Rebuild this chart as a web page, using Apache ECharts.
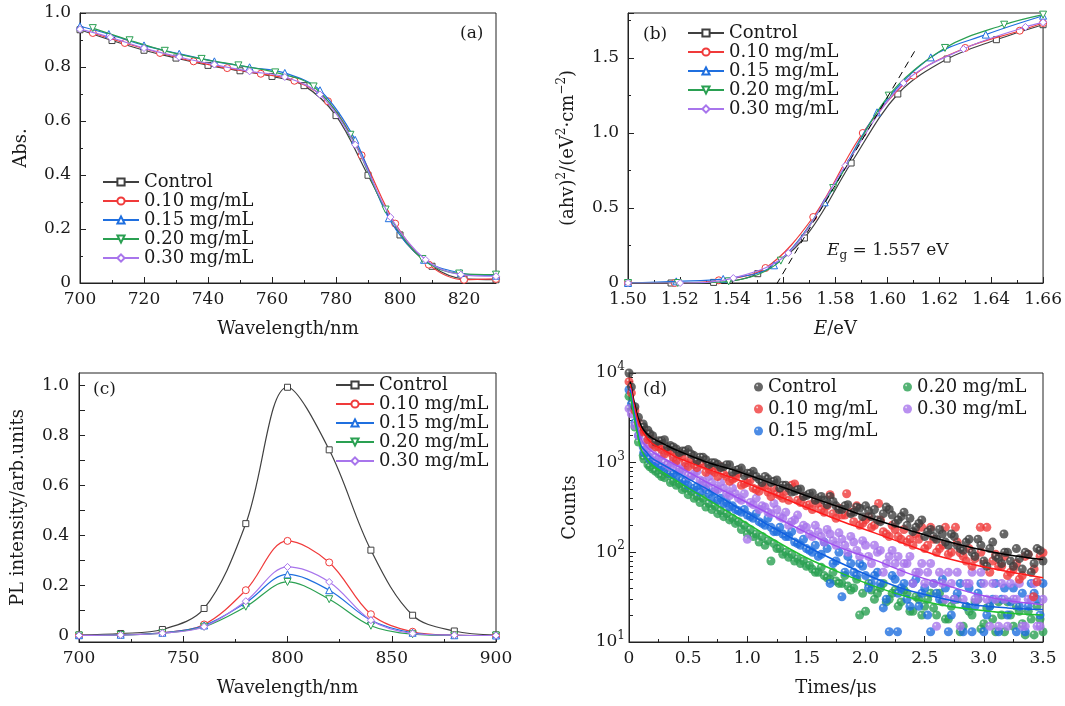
<!DOCTYPE html>
<html>
<head>
<meta charset="utf-8">
<script src="https://cdn.jsdelivr.net/npm/echarts@6/dist/echarts.min.js"></script>
<style>
  html, body { margin: 0; padding: 0; background: #fff; }
  #chart { width: 1065px; height: 706px; }
</style>
</head>
<body>
<div id="chart"></div>
<script>
// ---- (a) absorption, [wavelength nm, Abs.]
const absCtrl = [[700,0.938],[710,0.898],[720,0.862],[730,0.833],[740,0.806],[750,0.786],[760,0.765],[770,0.731],[780,0.62],[790,0.399],[800,0.178],[810,0.062],[820,0.015],[830,0.012]];
const abs010 = [[704,0.926],[714,0.889],[725,0.852],[735.5,0.821],[746,0.796],[756.5,0.775],[767,0.749],[777.5,0.673],[788,0.473],[798.5,0.22],[809,0.068],[820,0.012],[830,0.015]];
const abs015 = [[700,0.951],[709,0.922],[720,0.88],[731,0.849],[742,0.821],[753,0.799],[764,0.778],[775,0.714],[786,0.53],[796.5,0.24],[807.5,0.086],[819,0.037],[830,0.027]];
const abs020 = [[704,0.944],[715.5,0.899],[726.5,0.86],[738,0.83],[749.5,0.806],[761,0.78],[773,0.728],[784.5,0.549],[795.5,0.272],[807,0.089],[818.5,0.035],[830,0.031]];
const abs030 = [[700,0.94],[709.5,0.91],[720,0.87],[731,0.837],[742,0.809],[753,0.784],[764,0.763],[775,0.698],[786,0.512],[797,0.244],[808,0.086],[819,0.031],[830,0.025]];

// ---- (b) Tauc plot, [E eV, (ahv)^2]
const taucCtrl = [[1.500,0],[1.5166,0],[1.533,0.004],[1.550,0.062],[1.568,0.30],[1.586,0.80],[1.604,1.26],[1.623,1.493],[1.642,1.622],[1.660,1.722]];
const tauc010 = [[1.500,0],[1.518,0],[1.535,0.018],[1.553,0.10],[1.5714,0.44],[1.5905,1.0],[1.610,1.382],[1.630,1.567],[1.651,1.682],[1.660,1.733]];
const tauc015 = [[1.500,0],[1.5186,0.011],[1.5367,0.027],[1.5563,0.118],[1.5758,0.538],[1.596,1.138],[1.6167,1.504],[1.6379,1.656],[1.660,1.782]];
const tauc020 = [[1.500,0],[1.5192,0],[1.5388,0.011],[1.5589,0.149],[1.5791,0.633],[1.6005,1.249],[1.6222,1.567],[1.645,1.722],[1.660,1.789]];
const tauc030 = [[1.500,0],[1.5201,0],[1.5406,0.033],[1.5618,0.20],[1.5838,0.782],[1.6062,1.333],[1.6293,1.56],[1.6532,1.707],[1.660,1.738]];
const taucFit = [[1.5572,-0.01],[1.611,1.56]];

// ---- (c) PL spectra
const plWave = [700,720,740,760,780,800,820,840,860,880,900];
const plCtrl = [0.003,0.009,0.025,0.109,0.448,0.993,0.743,0.342,0.082,0.019,0.003];
const pl010  = [0.002,0.004,0.012,0.045,0.182,0.379,0.293,0.086,0.016,0.003,0.001];
const pl015  = [0.002,0.004,0.012,0.041,0.132,0.245,0.182,0.062,0.012,0.002,0.001];
const pl020  = [0.001,0.003,0.010,0.036,0.116,0.215,0.146,0.040,0.006,0.001,0.001];
const pl030  = [0.001,0.003,0.010,0.036,0.138,0.275,0.215,0.062,0.009,0.002,0.001];

// ---- (d) TRPL decay, [time us, counts]
const trCtrl = [[0.0,10000],[0.02,7000],[0.05,4200],[0.08,3200],[0.12,2700],[0.16,2300],[0.2,2000],[0.25,1750],[0.3,1800],[0.35,1550],[0.4,1420],[0.45,1350],[0.5,1400],[0.55,1200],[0.6,1150],[0.65,1080],[0.7,1000],[0.75,960],[0.8,900],[0.85,950],[0.9,820],[0.95,870],[1.0,760],[1.05,800],[1.1,650],[1.15,700],[1.2,600],[1.25,640],[1.3,560],[1.35,520],[1.4,480],[1.45,510],[1.5,430],[1.55,460],[1.6,400],[1.65,380],[1.7,420],[1.75,330],[1.8,300],[1.85,340],[1.9,280],[1.95,310],[2.0,330],[2.05,250],[2.1,230],[2.15,270],[2.2,300],[2.25,210],[2.3,250],[2.35,200],[2.4,170],[2.45,210],[2.5,150],[2.55,180],[2.6,140],[2.65,160],[2.7,120],[2.75,150],[2.8,110],[2.85,130],[2.9,100],[2.95,140],[3.0,80],[3.05,110],[3.1,90],[3.15,75],[3.17,160],[3.2,100],[3.25,70],[3.3,85],[3.35,100],[3.4,60],[3.45,110],[3.5,80]];
const trCtrlB = [[0.125,2500],[0.175,2100],[0.225,1700],[0.275,1750],[0.325,1500],[0.375,1500],[0.425,1300],[0.475,1350],[0.525,1250],[0.575,1050],[0.625,1150],[0.675,950],[0.725,1000],[0.775,880],[0.825,950],[0.875,780],[0.925,840],[0.975,720],[1.025,760],[1.075,700],[1.125,600],[1.175,660],[1.225,620],[1.275,520],[1.325,560],[1.375,470],[1.425,500],[1.475,420],[1.525,450],[1.575,380],[1.625,420],[1.675,340],[1.725,370],[1.775,300],[1.825,330],[1.875,270],[1.925,320],[1.975,250],[2.025,290],[2.075,300],[2.125,220],[2.175,320],[2.225,260],[2.275,230],[2.325,280],[2.375,240],[2.425,190],[2.475,230],[2.525,170],[2.575,150],[2.625,180],[2.675,130],[2.725,160],[2.775,120],[2.825,105],[2.875,140],[2.925,90],[2.975,120],[3.025,70],[3.075,130],[3.125,85],[3.175,100],[3.225,80],[3.275,110],[3.325,65],[3.375,95],[3.425,75],[3.475,105]];
const tr010 = [[0.0,8000],[0.02,6000],[0.05,3800],[0.08,2800],[0.12,2200],[0.16,1800],[0.2,1600],[0.25,1500],[0.3,1250],[0.35,1300],[0.4,1050],[0.45,1150],[0.5,900],[0.55,950],[0.6,1000],[0.65,780],[0.7,820],[0.75,700],[0.8,750],[0.85,620],[0.9,680],[0.95,560],[1.0,600],[1.05,520],[1.1,480],[1.15,540],[1.2,420],[1.25,450],[1.3,400],[1.35,380],[1.4,580],[1.45,360],[1.5,330],[1.55,300],[1.6,350],[1.65,280],[1.7,440],[1.75,240],[1.8,260],[1.84,450],[1.9,220],[1.95,200],[2.0,230],[2.05,190],[2.11,350],[2.15,170],[2.2,150],[2.25,180],[2.3,140],[2.35,130],[2.4,120],[2.45,140],[2.5,110],[2.55,190],[2.6,100],[2.65,120],[2.7,95],[2.76,190],[2.8,99],[2.85,80],[2.9,70],[2.97,190],[3.0,75],[3.05,60],[3.1,95],[3.15,70],[3.2,55],[3.25,65],[3.3,50],[3.35,90],[3.42,32],[3.45,47],[3.5,99]];
const tr010B = [[0.125,2300],[0.175,1900],[0.225,1500],[0.275,1400],[0.325,1350],[0.375,1150],[0.425,1250],[0.475,1000],[0.525,1100],[0.575,880],[0.625,950],[0.675,850],[0.725,780],[0.775,900],[0.825,700],[0.875,650],[0.925,760],[0.975,580],[1.025,640],[1.075,500],[1.125,560],[1.175,470],[1.225,520],[1.275,430],[1.325,480],[1.375,560],[1.425,380],[1.475,420],[1.525,340],[1.575,380],[1.625,300],[1.675,330],[1.725,270],[1.775,310],[1.825,260],[1.875,280],[1.925,330],[1.975,210],[2.025,250],[2.075,200],[2.125,230],[2.175,160],[2.225,200],[2.275,150],[2.325,180],[2.375,140],[2.425,160],[2.475,190],[2.525,120],[2.575,140],[2.625,110],[2.675,190],[2.725,100],[2.775,130],[2.825,90],[2.875,110],[2.925,85],[2.975,100],[3.025,190],[3.075,80],[3.125,70],[3.175,90],[3.225,60],[3.275,75],[3.325,55],[3.375,95],[3.425,65],[3.475,90]];
const tr015 = [[0.0,6500],[0.02,4500],[0.05,2800],[0.08,2000],[0.12,1500],[0.16,1200],[0.2,1050],[0.25,950],[0.3,850],[0.35,750],[0.4,700],[0.45,640],[0.5,560],[0.55,520],[0.6,470],[0.65,500],[0.7,400],[0.75,380],[0.8,350],[0.85,320],[0.9,300],[0.95,280],[1.0,260],[1.05,240],[1.1,220],[1.15,200],[1.2,190],[1.25,170],[1.3,160],[1.35,150],[1.4,130],[1.45,120],[1.5,110],[1.55,100],[1.6,90],[1.65,130],[1.7,45],[1.75,80],[1.8,32],[1.85,90],[1.9,60],[1.95,75],[2.0,55],[2.05,45],[2.1,60],[2.15,24],[2.2,13],[2.25,50],[2.27,13],[2.3,40],[2.35,30],[2.4,45],[2.45,25],[2.5,40],[2.55,13],[2.6,35],[2.65,50],[2.7,13],[2.75,30],[2.8,45],[2.85,25],[2.9,13],[2.95,35],[3.0,13],[3.05,25],[3.1,45],[3.15,30],[3.2,20],[3.25,40],[3.3,25],[3.35,13],[3.4,45],[3.45,30],[3.5,45]];
const tr015B = [[0.125,1300],[0.175,1100],[0.225,1000],[0.275,900],[0.325,950],[0.375,750],[0.425,800],[0.475,620],[0.525,700],[0.575,540],[0.625,560],[0.675,450],[0.725,480],[0.775,400],[0.825,360],[0.875,330],[0.925,290],[0.975,300],[1.025,250],[1.075,270],[1.125,210],[1.175,240],[1.225,170],[1.275,190],[1.325,150],[1.375,170],[1.425,125],[1.475,140],[1.525,105],[1.575,120],[1.625,95],[1.675,110],[1.725,75],[1.775,100],[1.825,60],[1.875,75],[1.925,55],[1.975,70],[2.025,40],[2.075,55],[2.125,45],[2.175,30],[2.225,55],[2.275,35],[2.325,45],[2.375,25],[2.425,50],[2.475,35],[2.525,20],[2.575,45],[2.625,30],[2.675,40],[2.725,20],[2.775,35],[2.825,13],[2.875,40],[2.925,25],[2.975,45],[3.025,20],[3.075,30],[3.125,13],[3.175,40],[3.225,28],[3.275,13],[3.325,35],[3.375,25],[3.425,35],[3.475,20]];
const tr020 = [[0.0,5500],[0.02,4000],[0.05,2500],[0.08,1700],[0.12,1200],[0.16,950],[0.2,850],[0.25,750],[0.3,680],[0.35,600],[0.4,560],[0.45,500],[0.5,440],[0.55,400],[0.6,360],[0.65,320],[0.7,300],[0.75,270],[0.8,250],[0.85,230],[0.9,210],[0.95,180],[1.0,160],[1.05,150],[1.1,130],[1.15,120],[1.2,80],[1.25,110],[1.3,95],[1.35,88],[1.4,80],[1.45,75],[1.5,70],[1.55,65],[1.6,60],[1.65,55],[1.7,50],[1.75,48],[1.8,45],[1.85,42],[1.9,40],[1.95,20],[2.0,22],[2.05,38],[2.1,35],[2.15,45],[2.2,30],[2.25,38],[2.3,28],[2.35,35],[2.4,22],[2.45,30],[2.5,25],[2.55,35],[2.6,20],[2.65,28],[2.7,18],[2.75,30],[2.8,13],[2.85,25],[2.9,20],[2.95,30],[3.0,16],[3.05,25],[3.1,13],[3.15,20],[3.2,28],[3.25,15],[3.3,22],[3.35,12],[3.4,18],[3.45,25],[3.5,13]];
const tr020B = [[0.125,1100],[0.175,900],[0.225,800],[0.275,700],[0.325,750],[0.375,620],[0.425,580],[0.475,520],[0.525,480],[0.575,420],[0.625,400],[0.675,350],[0.725,330],[0.775,290],[0.825,270],[0.875,240],[0.925,220],[0.975,200],[1.025,180],[1.075,160],[1.125,150],[1.175,135],[1.225,125],[1.275,110],[1.325,100],[1.375,95],[1.425,85],[1.475,80],[1.525,72],[1.575,60],[1.625,68],[1.675,52],[1.725,60],[1.775,45],[1.825,55],[1.875,38],[1.925,50],[1.975,35],[2.025,45],[2.075,30],[2.125,40],[2.175,28],[2.225,35],[2.275,25],[2.325,38],[2.375,22],[2.425,32],[2.475,20],[2.525,30],[2.575,24],[2.625,35],[2.675,18],[2.725,25],[2.775,30],[2.825,15],[2.875,22],[2.925,28],[2.975,14],[3.025,24],[3.075,18],[3.125,28],[3.175,13],[3.225,20],[3.275,25],[3.325,16],[3.375,22],[3.425,12],[3.475,18]];
const tr030 = [[0.0,4000],[0.02,3500],[0.05,2600],[0.08,2000],[0.12,1700],[0.16,1400],[0.2,1250],[0.25,1100],[0.3,1000],[0.35,900],[0.4,950],[0.45,800],[0.5,720],[0.55,750],[0.6,640],[0.65,560],[0.7,600],[0.75,500],[0.8,520],[0.85,430],[0.9,450],[0.95,380],[1.0,140],[1.05,340],[1.1,300],[1.15,320],[1.2,270],[1.25,300],[1.3,240],[1.35,200],[1.4,230],[1.45,180],[1.5,190],[1.55,150],[1.6,170],[1.65,130],[1.7,160],[1.75,120],[1.8,140],[1.85,100],[1.9,130],[1.95,90],[2.0,120],[2.05,75],[2.1,100],[2.15,60],[2.2,90],[2.25,75],[2.3,60],[2.35,75],[2.4,45],[2.45,60],[2.5,45],[2.55,75],[2.6,15],[2.65,45],[2.7,60],[2.75,30],[2.8,15],[2.85,45],[2.9,60],[2.95,30],[3.0,45],[3.05,15],[3.1,30],[3.15,45],[3.2,15],[3.25,30],[3.3,45],[3.35,15],[3.4,30],[3.45,15],[3.5,30]];
const tr030B = [[0.125,1500],[0.175,1550],[0.225,1150],[0.275,1200],[0.325,950],[0.375,1050],[0.425,850],[0.475,900],[0.525,700],[0.575,800],[0.625,620],[0.675,700],[0.725,520],[0.775,600],[0.825,450],[0.875,520],[0.925,400],[0.975,450],[1.025,360],[1.075,400],[1.125,330],[1.175,280],[1.225,350],[1.275,250],[1.325,280],[1.375,220],[1.425,260],[1.475,200],[1.525,160],[1.575,200],[1.625,150],[1.675,180],[1.725,135],[1.775,165],[1.825,120],[1.875,150],[1.925,105],[1.975,135],[2.025,90],[2.075,120],[2.125,105],[2.175,75],[2.225,105],[2.275,90],[2.325,75],[2.375,90],[2.425,60],[2.475,75],[2.525,60],[2.575,45],[2.625,60],[2.675,30],[2.725,45],[2.775,60],[2.825,30],[2.875,45],[2.925,30],[2.975,60],[3.025,30],[3.075,45],[3.125,15],[3.175,30],[3.225,45],[3.275,30],[3.325,15],[3.375,30],[3.425,45],[3.475,15]];
// fitted decay curves
const fitCtrl = [[0.01,8000],[0.04,5000],[0.07,3400],[0.1,2600],[0.15,2100],[0.2,1870],[0.3,1600],[0.375,1430],[0.5,1220],[0.66,1013],[0.94,783],[1.22,580],[1.5,428],[1.79,316],[2.07,234],[2.35,180],[2.63,139],[2.91,112],[3.2,94],[3.5,83]];
const fit010 = [[0.01,7500],[0.04,4600],[0.07,3100],[0.1,2400],[0.15,1900],[0.2,1620],[0.3,1370],[0.375,1200],[0.5,1020],[0.66,853],[0.94,631],[1.22,447],[1.5,316],[1.79,224],[2.07,166],[2.35,122],[2.63,90],[2.91,73],[3.2,61],[3.5,52]];
const fit015 = [[0.01,6500],[0.04,3800],[0.07,2300],[0.1,1560],[0.15,1300],[0.2,1107],[0.3,930],[0.375,818],[0.5,660],[0.66,508],[0.94,303],[1.22,188],[1.5,117],[1.79,76],[2.07,52],[2.35,38],[2.63,31],[2.91,26],[3.2,24],[3.5,23]];
const fit020 = [[0.01,6000],[0.04,3400],[0.07,2100],[0.1,1430],[0.15,1100],[0.2,931],[0.3,760],[0.375,659],[0.5,520],[0.66,393],[0.94,234],[1.22,139],[1.5,87],[1.79,59],[2.07,42],[2.35,32],[2.63,26],[2.91,23],[3.2,21],[3.5,20]];
const fit030 = [[0.01,6800],[0.04,4000],[0.07,2600],[0.1,1860],[0.15,1500],[0.2,1315],[0.3,1100],[0.375,973],[0.5,790],[0.66,604],[0.94,393],[1.22,255],[1.5,166],[1.79,112],[2.07,83],[2.35,59],[2.63,45],[2.91,35],[3.2,29],[3.5,26]];

// minor tick positions of the log axis (counts)
const logMinor = [20,30,40,50,60,70,80,90,200,300,400,500,600,700,800,900,2000,3000,4000,5000,6000,7000,8000,9000];

const names = ['Control', '0.10 mg/mL', '0.15 mg/mL', '0.20 mg/mL', '0.30 mg/mL'];
const colors = ['#404040', '#f03a3a', '#1f6fdf', '#2aa052', '#a875ec'];
const symbols = ['rect', 'circle', 'triangle', 'path://M0,0L20,0L10,17.3Z', 'diamond'];

const FONT = 'DejaVu Serif';
const TXT = '#1a1a1a';

const chart = echarts.init(document.getElementById('chart'));

function lineSeries(panel, i, data) {
  return {
    name: panel + ':' + names[i], type: 'line',
    xAxisIndex: panel, yAxisIndex: panel,
    data: data, smooth: 0.35,
    symbol: symbols[i], symbolSize: i === 0 ? 6 : 7,
    lineStyle: { color: colors[i], width: 1.2 },
    itemStyle: { color: '#fff', borderColor: colors[i], borderWidth: 1 },
    emphasis: { disabled: true }, z: 2 + i
  };
}

// shaded ball look of the decay dots
function dotColor(c) {
  return { type: 'radial', x: 0.35, y: 0.32, r: 0.7,
    colorStops: [{ offset: 0, color: '#f4f4f4' }, { offset: 0.22, color: c }, { offset: 1, color: c }] };
}

function dotSeries(i, data, z) {
  return {
    name: '3:' + names[i], type: 'scatter', xAxisIndex: 3, yAxisIndex: 3,
    data: data, symbolSize: 9,
    itemStyle: { color: dotColor(colors[i]) },
    emphasis: { disabled: true }, z: z
  };
}

function fitSeries(data, c) {
  return {
    type: 'line', xAxisIndex: 3, yAxisIndex: 3, data: data, smooth: 0.3,
    symbol: 'none', lineStyle: { color: c, width: 1.5 }, z: 20, silent: true
  };
}

const tickStyle = { color: TXT, fontFamily: FONT, fontSize: 17 };
const nameStyle = { color: TXT, fontFamily: FONT, fontSize: 18 };

function valAxis(grid, extra) {
  return Object.assign({
    type: 'value', gridIndex: grid,
    axisLine: { onZero: false, lineStyle: { color: '#222', width: 1 } },
    axisTick: { inside: true, length: 6, lineStyle: { color: '#222' } },
    minorTick: { show: true, splitNumber: 2, length: 3, lineStyle: { color: '#222' } },
    splitLine: { show: false },
    axisLabel: Object.assign({ margin: 8 }, tickStyle),
    nameLocation: 'middle', nameTextStyle: nameStyle
  }, extra);
}

function legend(panel, idx, left, top, gap, opts) {
  return Object.assign({
    orient: 'vertical', left: left, top: top,
    data: idx.map(i => panel + ':' + names[i]),
    formatter: n => n.split(':')[1],
    itemWidth: 36, itemHeight: 9, itemGap: gap,
    textStyle: { fontFamily: FONT, fontSize: 18, color: TXT, lineHeight: 18 },
    selectedMode: false
  }, opts || {});
}

function panelLabel(txt, x, y) {
  return { type: 'text', left: x, top: y, style: { text: txt, font: '17px "DejaVu Serif"', fill: TXT } };
}

const fixed1 = v => (v === 0 ? '0' : v.toFixed(1));
const supRich = { s: { fontSize: 12, fontFamily: FONT, color: TXT, verticalAlign: 'top', lineHeight: 24 } };

chart.setOption({
  animation: false,
  backgroundColor: '#fff',
  grid: [
    { left: 80, top: 13, width: 416, height: 270, show: true, borderColor: '#222', borderWidth: 1 },
    { left: 628, top: 13, width: 417, height: 270, show: true, borderColor: '#222', borderWidth: 1 },
    { left: 79, top: 373, width: 417, height: 269, show: true, borderColor: '#222', borderWidth: 1 },
    { left: 629, top: 373, width: 414, height: 269, show: true, borderColor: '#222', borderWidth: 1 }
  ],
  xAxis: [
    valAxis(0, { min: 700, max: 830, interval: 20, name: 'Wavelength/nm', nameGap: 37,
      axisLabel: Object.assign({ margin: 8, showMaxLabel: false }, tickStyle) }),
    valAxis(1, { min: 1.50, max: 1.66, interval: 0.02, name: '{i|E}/eV', nameGap: 37,
      nameTextStyle: Object.assign({}, nameStyle, { rich: { i: { fontStyle: 'italic', fontFamily: FONT, fontSize: 18, color: TXT } } }),
      axisLabel: Object.assign({ margin: 8, formatter: v => v.toFixed(2) }, tickStyle) }),
    valAxis(2, { min: 700, max: 900, interval: 50, name: 'Wavelength/nm', nameGap: 37 }),
    valAxis(3, { min: 0, max: 3.5, interval: 0.5, name: 'Times/μs', nameGap: 37,
      axisLabel: Object.assign({ margin: 8, formatter: fixed1 }, tickStyle) })
  ],
  yAxis: [
    valAxis(0, { min: 0, max: 1.0, interval: 0.2, name: 'Abs.', nameGap: 50,
      axisLabel: Object.assign({ margin: 9, formatter: fixed1 }, tickStyle) }),
    valAxis(1, { min: 0, max: 1.8, interval: 0.5, name: '(ahv){s|2}/(eV{s|2}·cm{s|−2})', nameGap: 48,
      nameTextStyle: Object.assign({}, nameStyle, { rich: supRich }),
      axisLabel: Object.assign({ margin: 9, formatter: fixed1, showMaxLabel: false }, tickStyle) }),
    valAxis(2, { min: -0.025, max: 1.05, name: 'PL intensity/arb.units', nameGap: 52,
      axisTick: { inside: true, length: 6, lineStyle: { color: '#222' }, customValues: [0,0.1,0.2,0.3,0.4,0.5,0.6,0.7,0.8,0.9,1.0] },
      minorTick: { show: false },
      axisLabel: Object.assign({ margin: 10, formatter: fixed1, customValues: [0,0.2,0.4,0.6,0.8,1.0] }, tickStyle) }),
    {
      type: 'log', gridIndex: 3, min: 10, max: 10000, logBase: 10,
      name: 'Counts', nameLocation: 'middle', nameGap: 50, nameTextStyle: nameStyle,
      axisLine: { lineStyle: { color: '#222' } },
      axisTick: { inside: true, length: 7, lineStyle: { color: '#222' } },
      splitLine: { show: false },
      axisLabel: {
        margin: 4, color: TXT, fontFamily: FONT, fontSize: 17,
        formatter: v => '10{s|' + Math.round(Math.log10(v)) + '}',
        rich: supRich
      }
    },
    {
      // hidden linear axis in log10 space, only for the minor ticks
      type: 'value', gridIndex: 3, min: 1, max: 4, position: 'left',
      axisLine: { show: false }, axisLabel: { show: false }, splitLine: { show: false },
      axisTick: { inside: true, length: 4, lineStyle: { color: '#222' },
        customValues: logMinor.map(v => Math.log10(v)) }
    }
  ],
  legend: [
    legend(0, [0,1,2,3,4], 97, 168, 1),
    legend(1, [0,1,2,3,4], 682, 19, 1),
    legend(2, [0,1,2,3,4], 330, 371, 1, { itemWidth: 38 }),
    legend(3, [0,1,2], 749, 373, 4, { itemWidth: 9, itemHeight: 9 }),
    legend(3, [3,4], 898, 373, 4, { itemWidth: 9, itemHeight: 9 })
  ],
  graphic: [
    panelLabel('(a)', 460, 25),
    panelLabel('(b)', 643, 26),
    panelLabel('(c)', 93, 381),
    panelLabel('(d)', 643, 381),
    { type: 'text', left: 827, top: 242,
      style: { text: '{i|E}{s|g} = 1.557 eV', font: '17px "DejaVu Serif"', fill: TXT,
        rich: { i: { fontStyle: 'italic', fontFamily: FONT, fontSize: 17, lineHeight: 22 },
                s: { fontFamily: FONT, fontSize: 12, verticalAlign: 'bottom', lineHeight: 22 } } } }
  ],
  series: [
    lineSeries(0, 0, absCtrl), lineSeries(0, 1, abs010), lineSeries(0, 2, abs015), lineSeries(0, 3, abs020), lineSeries(0, 4, abs030),
    lineSeries(1, 0, taucCtrl), lineSeries(1, 1, tauc010), lineSeries(1, 2, tauc015), lineSeries(1, 3, tauc020), lineSeries(1, 4, tauc030),
    { type: 'line', xAxisIndex: 1, yAxisIndex: 1, data: taucFit, symbol: 'none',
      lineStyle: { color: '#000', width: 1, type: [7, 5] }, z: 10, silent: true },
    lineSeries(2, 0, plWave.map((w, k) => [w, plCtrl[k]])),
    lineSeries(2, 1, plWave.map((w, k) => [w, pl010[k]])),
    lineSeries(2, 2, plWave.map((w, k) => [w, pl015[k]])),
    lineSeries(2, 3, plWave.map((w, k) => [w, pl020[k]])),
    lineSeries(2, 4, plWave.map((w, k) => [w, pl030[k]])),
    dotSeries(3, tr020.concat(tr020B), 3), dotSeries(2, tr015.concat(tr015B), 4),
    dotSeries(4, tr030.concat(tr030B), 5), dotSeries(1, tr010.concat(tr010B), 6),
    dotSeries(0, trCtrl.concat(trCtrlB), 7),
    fitSeries(fitCtrl, '#000'), fitSeries(fit010, '#ff1a1a'), fitSeries(fit030, '#a050f0'),
    fitSeries(fit015, '#1060e0'), fitSeries(fit020, '#20c030')
  ]
});
</script>
</body>
</html>
